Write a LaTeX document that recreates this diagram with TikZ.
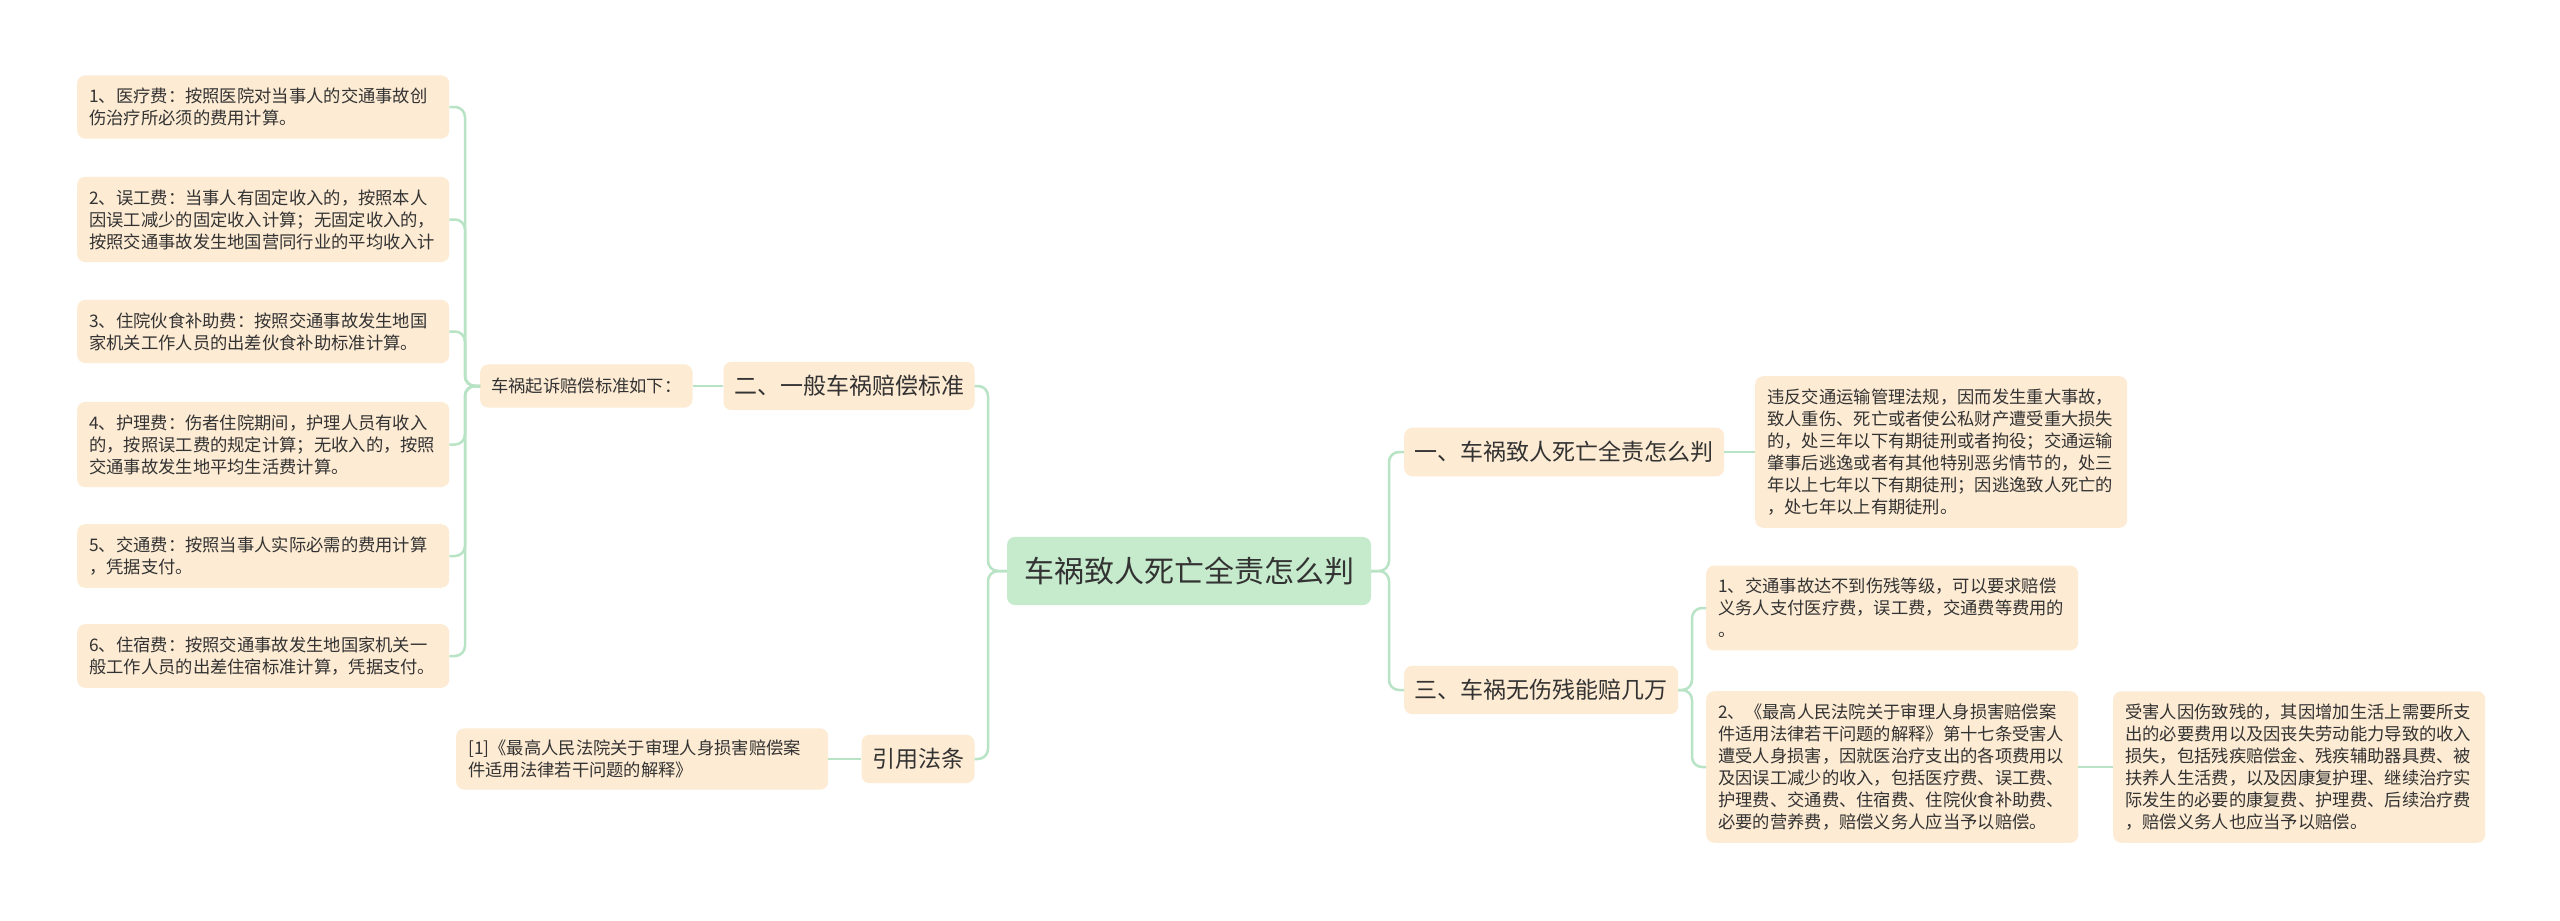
\documentclass[tikz,border=0pt]{standalone}
\usepackage{fontspec}
\setmainfont{Noto Sans CJK SC}
\definecolor{leaffill}{HTML}{FDEBD3}
\definecolor{rootfill}{HTML}{C6EBCC}
\definecolor{linkcol}{HTML}{B8E3C5}
\definecolor{txtcol}{HTML}{333333}

\begin{document}
\begin{tikzpicture}[x=1pt,y=-1pt,
    box/.style={fill=leaffill, rounded corners=8pt, text=txtcol},
    leaf/.style={box, anchor=west, text width=348pt, align=left,
      inner xsep=12pt, inner ysep=12.5pt, font=\fontsize{17.3}{22}\selectfont},
    topic/.style={box, inner xsep=10.5pt, inner ysep=13.5pt,
      font=\fontsize{23}{28}\selectfont},
    conn/.style={draw=linkcol, line width=2.5pt, rounded corners=10pt}]

    % canvas
    \fill[white] (0,0) rectangle (2560,921);
    \useasboundingbox (0,0) rectangle (2560,921);

    % centre
    \node[box, fill=rootfill, inner xsep=17pt, inner ysep=20pt,
      font=\fontsize{30}{36}\selectfont] (root) at (1189,571) {车祸致人死亡全责怎么判};

    % left branch
    \node[topic] (std) at (849,386) {二、一般车祸赔偿标准};
    \node[box, anchor=west, inner xsep=11pt, inner ysep=13.5pt,
      font=\fontsize{17.3}{22}\selectfont] (claim) at (480,386) {车祸起诉赔偿标准如下：};

    \node[leaf] (fee1) at (77,107) {1、医疗费：按照医院对当事人的交通事故创\\伤治疗所必须的费用计算。};
    \node[leaf] (fee2) at (77,219.5) {2、误工费：当事人有固定收入的，按照本人\\因误工减少的固定收入计算；无固定收入的，\\按照交通事故发生地国营同行业的平均收入计};
    \node[leaf] (fee3) at (77,331.5) {3、住院伙食补助费：按照交通事故发生地国\\家机关工作人员的出差伙食补助标准计算。};
    \node[leaf] (fee4) at (77,444.5) {4、护理费：伤者住院期间，护理人员有收入\\的，按照误工费的规定计算；无收入的，按照\\交通事故发生地平均生活费计算。};
    \node[leaf] (fee5) at (77,556) {5、交通费：按照当事人实际必需的费用计算\\，凭据支付。};
    \node[leaf] (fee6) at (77,656) {6、住宿费：按照交通事故发生地国家机关一\\般工作人员的出差住宿标准计算，凭据支付。};

    \node[topic] (law) at (918,759) {引用法条};
    \node[leaf, inner ysep=11.5pt] (cite) at (456,759) {[1]《最高人民法院关于审理人身损害赔偿案\\件适用法律若干问题的解释》};

    % right branch
    \node[topic, anchor=west] (judge) at (1404,452) {一、车祸致人死亡全责怎么判};
    \node[leaf] (penalty) at (1755,452) {违反交通运输管理法规，因而发生重大事故，\\致人重伤、死亡或者使公私财产遭受重大损失\\的，处三年以下有期徒刑或者拘役；交通运输\\肇事后逃逸或者有其他特别恶劣情节的，处三\\年以上七年以下有期徒刑；因逃逸致人死亡的\\，处七年以上有期徒刑。};

    \node[topic, anchor=west] (nodis) at (1404,690) {三、车祸无伤残能赔几万};
    \node[leaf] (pay1) at (1706,608) {1、交通事故达不到伤残等级，可以要求赔偿\\义务人支付医疗费，误工费，交通费等费用的\\。};
    \node[leaf] (pay2) at (1706,767) {2、《最高人民法院关于审理人身损害赔偿案\\件适用法律若干问题的解释》第十七条受害人\\遭受人身损害，因就医治疗支出的各项费用以\\及因误工减少的收入，包括医疗费、误工费、\\护理费、交通费、住宿费、住院伙食补助费、\\必要的营养费，赔偿义务人应当予以赔偿。};
    \node[leaf] (disab) at (2113,767) {受害人因伤致残的，其因增加生活上需要所支\\出的必要费用以及因丧失劳动能力导致的收入\\损失，包括残疾赔偿金、残疾辅助器具费、被\\扶养人生活费，以及因康复护理、继续治疗实\\际发生的必要的康复费、护理费、后续治疗费\\，赔偿义务人也应当予以赔偿。};

    % junctions
    \coordinate (jl) at (988,571);
    \coordinate (jc) at (465,386);
    \coordinate (jr) at (1389,571);
    \coordinate (j3) at (1692,690);

    % connectors
    \draw[conn] (root.west) -- (jl) |- (std.east);
    \draw[conn] (root.west) -- (jl) |- (law.east);
    \draw[conn] (std.west) -- (claim.east);
    \foreach \i in {1,...,6}
      \draw[conn] (claim.west) -- (jc) |- (fee\i.east);
    \draw[conn] (law.west) -- (cite.east);

    \draw[conn] (root.east) -- (jr) |- (judge.west);
    \draw[conn] (root.east) -- (jr) |- (nodis.west);
    \draw[conn] (judge.east) -- (penalty.west);
    \draw[conn] (nodis.east) -- (j3) |- (pay1.west);
    \draw[conn] (nodis.east) -- (j3) |- (pay2.west);
    \draw[conn] (pay2.east) -- (disab.west);

\end{tikzpicture}
\end{document}
